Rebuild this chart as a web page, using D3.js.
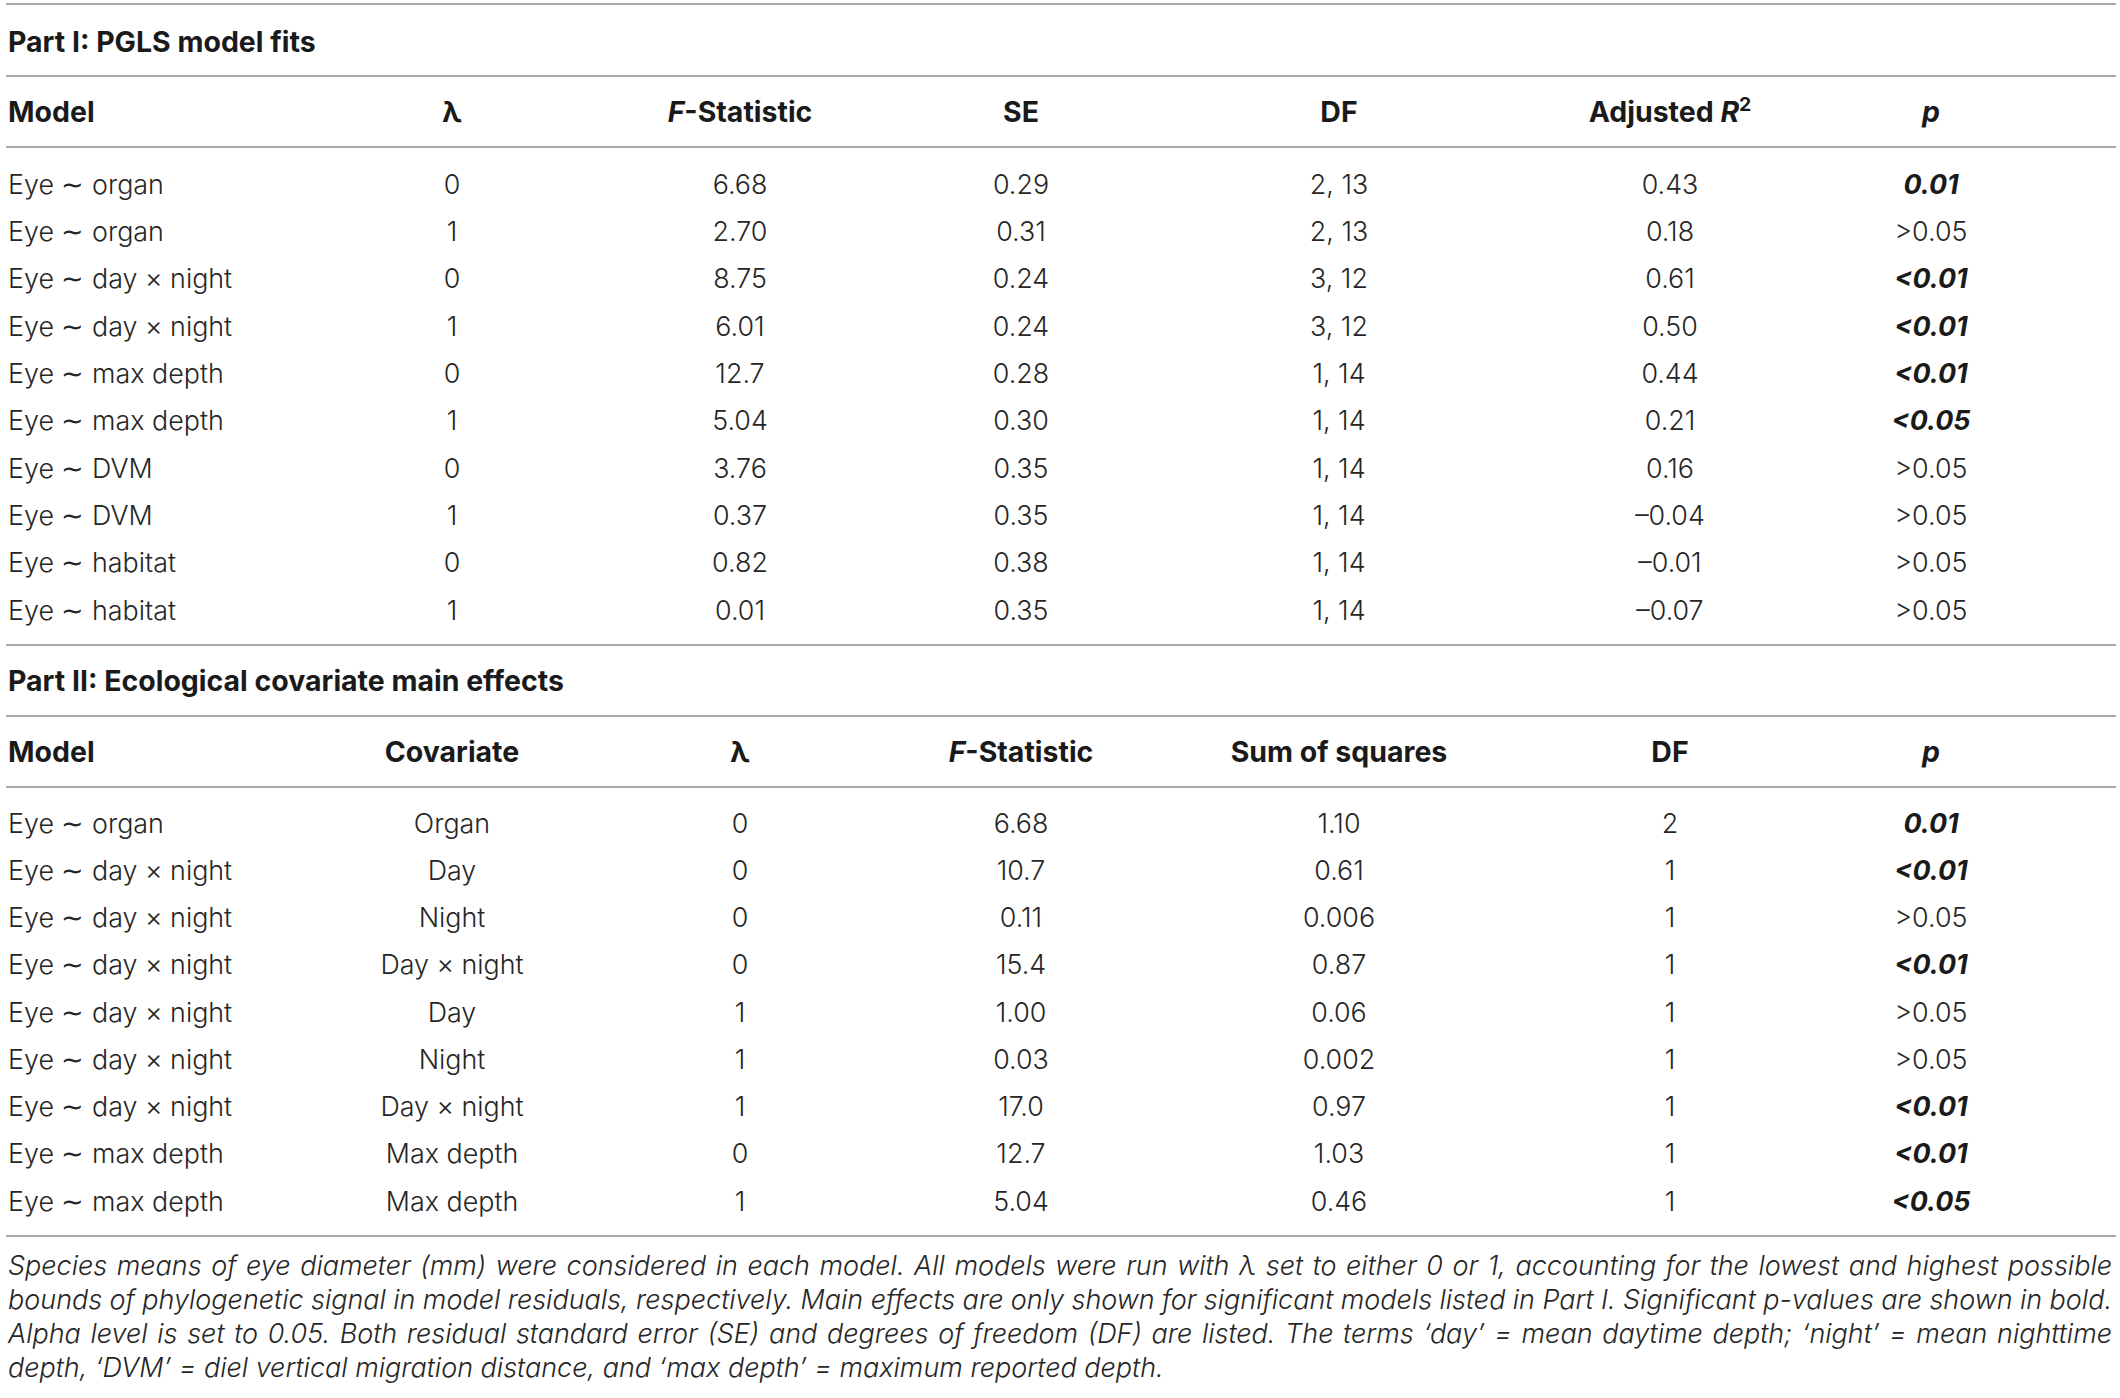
<!DOCTYPE html>
<html><head><meta charset="utf-8">
<script src="https://cdn.jsdelivr.net/npm/d3@7"></script>
<style>
html,body{margin:0;padding:0;background:#fff;}
svg{display:block;}
text{font-family:Inter,"Liberation Sans",Arial,sans-serif;}
</style></head>
<body>
<script>
// ---------- DATA ----------
const part1Title = "Part I: PGLS model fits";
const part2Title = "Part II: Ecological covariate main effects";

const p1Models = ["Eye ∼ organ","Eye ∼ organ","Eye ∼ day × night","Eye ∼ day × night","Eye ∼ max depth","Eye ∼ max depth","Eye ∼ DVM","Eye ∼ DVM","Eye ∼ habitat","Eye ∼ habitat"];
const p1Lambda = ["0","1","0","1","0","1","0","1","0","1"];
const p1F = ["6.68","2.70","8.75","6.01","12.7","5.04","3.76","0.37","0.82","0.01"];
const p1SE = ["0.29","0.31","0.24","0.24","0.28","0.30","0.35","0.35","0.38","0.35"];
const p1DF = ["2, 13","2, 13","3, 12","3, 12","1, 14","1, 14","1, 14","1, 14","1, 14","1, 14"];
const p1R2 = ["0.43","0.18","0.61","0.50","0.44","0.21","0.16","–0.04","–0.01","–0.07"];
const p1P = ["0.01",">0.05","<0.01","<0.01","<0.01","<0.05",">0.05",">0.05",">0.05",">0.05"];
const p1Sig = [true,false,true,true,true,true,false,false,false,false];

const p2Models = ["Eye ∼ organ","Eye ∼ day × night","Eye ∼ day × night","Eye ∼ day × night","Eye ∼ day × night","Eye ∼ day × night","Eye ∼ day × night","Eye ∼ max depth","Eye ∼ max depth"];
const p2Covariate = ["Organ","Day","Night","Day × night","Day","Night","Day × night","Max depth","Max depth"];
const p2Lambda = ["0","0","0","0","1","1","1","0","1"];
const p2F = ["6.68","10.7","0.11","15.4","1.00","0.03","17.0","12.7","5.04"];
const p2SS = ["1.10","0.61","0.006","0.87","0.06","0.002","0.97","1.03","0.46"];
const p2DF = ["2","1","1","1","1","1","1","1","1"];
const p2P = ["0.01","<0.01",">0.05","<0.01",">0.05",">0.05","<0.01","<0.01","<0.05"];
const p2Sig = [true,true,false,true,false,false,true,true,true];

const captionLines = [
 "Species means of eye diameter (mm) were considered in each model. All models were run with λ set to either 0 or 1, accounting for the lowest and highest possible",
 "bounds of phylogenetic signal in model residuals, respectively. Main effects are only shown for significant models listed in Part I. Significant p-values are shown in bold.",
 "Alpha level is set to 0.05. Both residual standard error (SE) and degrees of freedom (DF) are listed. The terms ‘day’ = mean daytime depth; ‘night’ = mean nighttime",
 "depth, ‘DVM’ = diel vertical migration distance, and ‘max depth’ = maximum reported depth."
];

// ---------- LAYOUT ----------
const W = 2120, H = 1398;
const LEFT = 8, RIGHT = 2112;
const TXT = "#262626", HEAD = "#1a1a1a", RULE = "#a8a8a8";
const colCenters = [452, 740, 1021, 1339, 1670, 1931];

const svg = d3.select("body").append("svg").attr("width", W).attr("height", H);

// calibrate font sizes so text widths follow the reference typesetting
function measure(str, size, weight, style){
  const t = svg.append("text").attr("font-size", size).attr("font-weight", weight)
    .attr("font-style", style || "normal").text(str);
  const w = t.node().getComputedTextLength(); t.remove(); return w;
}
const FS = 28 * 155 / measure("Eye ∼ organ", 28, 300);
const FSB = 28 * 556 / measure(part2Title, 28, 700);
const FS_CAP = 26 * 1156 / measure(captionLines[3], 26, 300, "italic");

const yRow1 = d3.scalePoint().domain(d3.range(p1Models.length)).range([184, 610]);
const yRow2 = d3.scalePoint().domain(d3.range(p2Models.length)).range([823, 1201]);
const xCol = d3.scaleOrdinal().domain(d3.range(colCenters.length)).range(colCenters);

// rules
const rules = [4, 76, 147, 645, 716, 787, 1236];
svg.selectAll("line.rule").data(rules).join("line")
  .attr("class","rule").attr("x1", 6).attr("x2", 2116)
  .attr("y1", d => d).attr("y2", d => d)
  .attr("stroke", RULE).attr("stroke-width", 2);

function titleText(t, y){
  svg.append("text").attr("x", LEFT).attr("y", y).attr("dy","0.36em")
    .attr("font-size", FSB).attr("font-weight", 700).attr("fill", HEAD).text(t);
}
titleText(part1Title, 42);
titleText(part2Title, 681);

function header(y, specs){
  specs.forEach((segs, i) => {
    const t = svg.append("text").attr("y", y).attr("dy","0.36em")
      .attr("font-size", FSB).attr("font-weight", 700).attr("fill", HEAD);
    if (i === 0) t.attr("x", LEFT).attr("text-anchor","start");
    else t.attr("x", xCol(i-1)).attr("text-anchor","middle");
    segs.forEach(s => {
      const ts = t.append("tspan").text(s.t);
      if (s.it) ts.attr("font-style","italic");
      if (s.sup) ts.attr("font-size", FSB*0.68).attr("dy", -FSB*0.38);
    });
  });
}
header(112, [
  [{t:"Model"}],[{t:"λ"}],[{t:"F",it:1},{t:"-Statistic"}],[{t:"SE"}],[{t:"DF"}],
  [{t:"Adjusted "},{t:"R",it:1},{t:"2",sup:1}],[{t:"p",it:1}]
]);
header(752, [
  [{t:"Model"}],[{t:"Covariate"}],[{t:"λ"}],[{t:"F",it:1},{t:"-Statistic"}],[{t:"Sum of squares"}],
  [{t:"DF"}],[{t:"p",it:1}]
]);

function body(yScale, models, cols, pVals, sig){
  const g = svg.append("g");
  g.selectAll("text.m").data(models).join("text").attr("class","m")
    .attr("x", LEFT).attr("y", (d,i) => yScale(i)).attr("dy","0.36em")
    .attr("font-size", FS).attr("font-weight", 300).attr("fill", TXT).text(d => d);
  cols.forEach((arr, c) => {
    g.selectAll("text.c"+c).data(arr).join("text").attr("class","c"+c)
      .attr("x", xCol(c)).attr("y", (d,i) => yScale(i)).attr("dy","0.36em")
      .attr("text-anchor","middle")
      .attr("font-size", FS).attr("font-weight", 300).attr("fill", TXT).text(d => d);
  });
  g.selectAll("text.p").data(pVals).join("text").attr("class","p")
    .attr("x", xCol(cols.length)).attr("y", (d,i) => yScale(i)).attr("dy","0.36em")
    .attr("text-anchor","middle").attr("font-size", FS)
    .attr("font-weight", (d,i) => sig[i] ? 700 : 300)
    .attr("font-style", (d,i) => sig[i] ? "italic" : "normal")
    .attr("fill", (d,i) => sig[i] ? HEAD : TXT).text(d => d);
}
body(yRow1, p1Models, [p1Lambda, p1F, p1SE, p1DF, p1R2], p1P, p1Sig);
body(yRow2, p2Models, [p2Covariate, p2Lambda, p2F, p2SS, p2DF], p2P, p2Sig);

// caption (justified)
const yCap = d3.scalePoint().domain(d3.range(captionLines.length)).range([1265, 1367]);
const cap = svg.selectAll("text.cap").data(captionLines).join("text").attr("class","cap")
  .attr("x", LEFT).attr("y", (d,i) => yCap(i)).attr("dy","0.36em")
  .attr("font-size", FS_CAP).attr("font-weight", 300).attr("font-style","italic")
  .attr("fill", TXT).text(d => d);
cap.each(function(d, i){
  if (i === captionLines.length - 1) return;
  const len = this.getComputedTextLength();
  const spaces = (d.match(/ /g) || []).length;
  const ws = (RIGHT - LEFT - len) / spaces;
  d3.select(this).attr("word-spacing", ws);
});
</script>
</body></html>
